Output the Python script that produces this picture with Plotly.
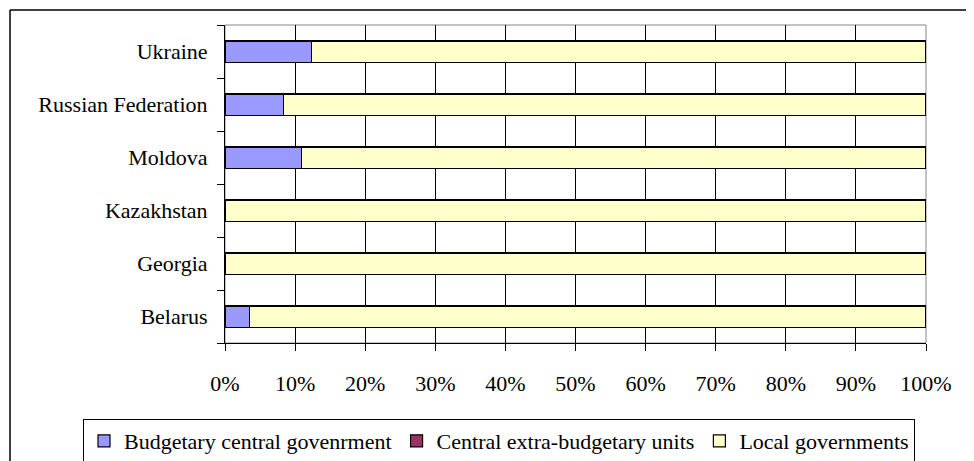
import plotly.graph_objects as go

# Share of spending by level of government, %
countries = ['Belarus', 'Georgia', 'Kazakhstan', 'Moldova', 'Russian Federation', 'Ukraine']
central_gov = [3.5, 0.0, 0.0, 10.9, 8.3, 12.3]
extra_budget = [0.0, 0.0, 0.0, 0.0, 0.0, 0.0]
local_gov = [96.5, 100.0, 100.0, 89.1, 91.7, 87.7]

series_names = ['Budgetary central govenrment', 'Central extra-budgetary units', 'Local governments']
colors = ['#9999FF', '#993366', '#FFFFCC']
x_ticks = list(range(0, 101, 10))

# figure sits at (8, 8) in the page because of the body margin
W, H = 966, 453
L, R, T, B = 217, 48, 17, 118   # plot area in pixels


def px_x(x):
    return (x - L) / (W - L - R)


def px_y(y):
    return (H - B - y) / (H - T - B)


fig = go.Figure()
for name, vals, col in zip(series_names, [central_gov, extra_budget, local_gov], colors):
    fig.add_trace(go.Bar(
        y=countries, x=vals, name=name, orientation='h',
        marker=dict(color=col, line=dict(color='black', width=1.2)),
        width=0.4,
    ))

fig.update_layout(
    width=W, height=H,
    barmode='stack',
    paper_bgcolor='white', plot_bgcolor='white',
    margin=dict(l=L, r=R, t=T, b=B, pad=0, autoexpand=False),
    font=dict(family='Times New Roman, Liberation Serif, serif', size=22, color='black'),
    legend=dict(
        orientation='h', x=px_x(75), xanchor='left', y=px_y(411), yanchor='top',
        bordercolor='black', borderwidth=1, bgcolor='white',
        font=dict(size=22), traceorder='normal', itemwidth=30,
    ),
    showlegend=True,
    shapes=[
        # outer chart frame (only top and left visible in the crop)
        dict(type='line', xref='paper', yref='paper', x0=px_x(2), x1=px_x(990),
             y0=px_y(2), y1=px_y(2), line=dict(color='black', width=1.5)),
        dict(type='line', xref='paper', yref='paper', x0=px_x(2), x1=px_x(2),
             y0=px_y(2), y1=px_y(480), line=dict(color='black', width=1.5)),
        # plot area border
        dict(type='rect', xref='paper', yref='paper', x0=0, x1=1, y0=0, y1=1,
             line=dict(color='#888888', width=1), layer='below'),
    ],
)

fig.update_xaxes(
    range=[0, 100], tickvals=x_ticks, ticktext=[f'{v}%' for v in x_ticks],
    showgrid=True, gridcolor='black', gridwidth=1,
    showline=True, linecolor='black', linewidth=1,
    ticks='outside', ticklen=7, tickcolor='black', ticklabelstandoff=14,
    zeroline=False, fixedrange=True, automargin=False,
)
fig.update_yaxes(
    categoryorder='array', categoryarray=countries,
    showgrid=False, showline=True, linecolor='black', linewidth=1,
    ticks='outside', ticklen=7, tickcolor='black', tickson='boundaries',
    ticklabelstandoff=12, fixedrange=True, automargin=False,
)

fig.write_html('out.html')
